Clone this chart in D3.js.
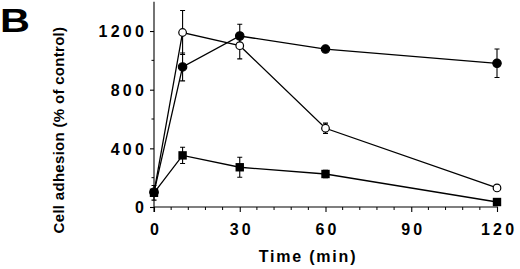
<!DOCTYPE html>
<html><head><meta charset="utf-8">
<script src="https://cdn.jsdelivr.net/npm/d3@7"></script>
<style>body{margin:0;background:#fff}svg{display:block}text{font-family:"Liberation Sans",Arial,sans-serif;font-weight:bold;fill:#000}</style>
</head><body>
<svg id="c" width="520" height="269"></svg>
<script>
const times = [0, 10, 30, 60, 120];
const openCircle = [100, 1190, 1100, 537, 130];
const openCircleErr = [0, 150, 90, 35, 0];
const filledCircle = [100, 955, 1166, 1077, 980];
const filledCircleErr = [0, 95, 80, 0, 97];
const squares = [97, 352, 271, 225, 34];
const squaresErr = [50, 55, 68, 25, 0];
const xTicks = [0, 30, 60, 90, 120];
const yTicks = [0, 400, 800, 1200];

const svg = d3.select("#c");
const x = d3.scaleLinear().domain([0, 120]).range([154, 497]);
const y = d3.scaleLinear().domain([0, 1400]).range([207, 1.7]);

// Panel letter
svg.append("text").attr("x", 0).attr("y", 32).attr("font-size", 34).style("font-weight", 900)
  .attr("transform", "scale(1.22,1)").text("B");

// y axis
const yAxis = d3.axisLeft(y).tickValues(yTicks).tickSize(4).tickFormat(d3.format("d"));
const gy = svg.append("g").attr("transform", `translate(${x(0)},0)`).call(yAxis);
gy.select(".domain").attr("d", `M0,${y(1400)}V212`).attr("stroke", "#000").attr("stroke-width", 1.1);
gy.selectAll(".tick line").attr("stroke-width", 1.1);
gy.selectAll(".tick text").attr("font-size", 16).attr("letter-spacing", 3.2).attr("dx", -1).attr("dy", "0.36em").attr("x", -6);
const yMinor = d3.range(200, 1400, 400);
gy.selectAll(".minor").data(yMinor).enter().append("line")
  .attr("x1", -2.5).attr("x2", 0).attr("y1", d => y(d)).attr("y2", d => y(d)).attr("stroke", "#000").attr("stroke-width", 1);

// x axis
const xAxis = d3.axisBottom(x).tickValues(xTicks).tickSize(5).tickFormat(d3.format("d"));
const gx = svg.append("g").attr("transform", `translate(0,${y(0)})`).call(xAxis);
gx.select(".domain").attr("d", `M${x(0)},0H${x(120) + 1}`).attr("stroke", "#000").attr("stroke-width", 1.1);
gx.selectAll(".tick line").attr("stroke-width", 1.1);
gx.selectAll(".tick text").attr("font-size", 16).attr("letter-spacing", 3.2).attr("dx", 1.6).attr("y", 17).attr("dy", "0.71em");
const xMinor = d3.range(6, 120, 6).filter(d => d % 30 !== 0);
gx.selectAll(".minor").data(xMinor).enter().append("line")
  .attr("x1", d => x(d)).attr("x2", d => x(d)).attr("y1", 0).attr("y2", 3).attr("stroke", "#000").attr("stroke-width", 1);
gy.selectAll("text").attr("font-family", null);
gx.selectAll("text").attr("font-family", null);

// axis titles
svg.append("text").attr("transform", "translate(64,130) rotate(-90)").attr("text-anchor", "middle")
  .attr("font-size", 15).attr("letter-spacing", 0.3).text("Cell adhesion (% of control)");
svg.append("text").attr("x", 308).attr("y", 262).attr("text-anchor", "middle")
  .attr("font-size", 16).attr("letter-spacing", 1.8).text("Time (min)");

const series = [
  {vals: filledCircle, err: filledCircleErr, shape: "circle", fill: "#000"},
  {vals: openCircle, err: openCircleErr, shape: "circle", fill: "#fff"},
  {vals: squares, err: squaresErr, shape: "square", fill: "#000"}
];
const line = d3.line().x((d, i) => x(times[i])).y(d => y(d));
series.forEach(s => {
  svg.append("path").attr("d", line(s.vals)).attr("fill", "none").attr("stroke", "#000").attr("stroke-width", 1.3);
});
series.forEach(s => {
  const g = svg.append("g");
  s.vals.forEach((v, i) => {
    const e = s.err[i];
    if (e > 0) {
      const cx = x(times[i]);
      g.append("path").attr("d", `M${cx},${y(v + e)}V${y(v - e)}M${cx - 2.5},${y(v + e)}H${cx + 2.5}M${cx - 2.5},${y(v - e)}H${cx + 2.5}`)
        .attr("stroke", "#000").attr("stroke-width", 1.1).attr("fill", "none");
    }
  });
});
series.forEach(s => {
  const g = svg.append("g");
  s.vals.forEach((v, i) => {
    const cx = x(times[i]), cy = y(v);
    if (s.shape === "circle") {
      g.append("circle").attr("cx", cx).attr("cy", cy).attr("r", s.fill === "#fff" ? 3.8 : 4.2)
        .attr("fill", s.fill).attr("stroke", "#000").attr("stroke-width", 1.2);
    } else {
      g.append("rect").attr("x", cx - 4.2).attr("y", cy - 4.2).attr("width", 8.4).attr("height", 8.4).attr("fill", "#000");
    }
  });
});
</script>
</body></html>
